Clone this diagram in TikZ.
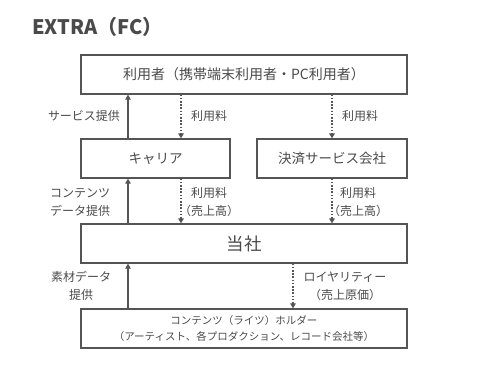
\documentclass[tikz,border=0pt]{standalone}
\usepackage{fontspec}
\setmainfont{Noto Sans CJK JP}
\usepackage{tikz}
\usetikzlibrary{arrows.meta}
\usetikzlibrary{positioning}

\definecolor{linegray}{HTML}{555555}
\definecolor{textgray}{HTML}{4A4A4A}

\begin{document}
\begin{tikzpicture}[x=1pt, y=-1pt,
    every node/.style={text=textgray, inner sep=0pt},
    box/.style={draw=linegray, line width=1.3pt, minimum height=39pt},
    label/.style={font=\fontsize{12}{18}\selectfont, align=center},
    upflow/.style={draw=linegray, line width=1.2pt, -{Triangle[width=5.5pt,length=5pt]}},
    fee/.style={draw=linegray, line width=1.3pt, dash pattern=on 1.6pt off 1.6pt, -{Triangle[width=5.5pt,length=5pt]}}]

      \useasboundingbox (0,0) rectangle (488,366);

      % Title
      \node[anchor=west, text=textgray, font=\fontsize{20}{22}\selectfont\bfseries] (title) at (32,27) {EXTRA（FC）};

      % Boxes
      \node[box, minimum width=326pt, font=\fontsize{14}{16}\selectfont] (user) at (244,74.5) {利用者（携帯端末利用者・PC利用者）};
      \node[box, minimum width=149pt, font=\fontsize{13.5}{16}\selectfont] (carrier) at (155.5,158.5) {キャリア};
      \node[box, minimum width=150pt, font=\fontsize{13.5}{16}\selectfont] (payment) at (332,158.5) {決済サービス会社};
      \node[box, minimum width=326pt, font=\fontsize{17.5}{20}\selectfont] (company) at (244,243.5) {当社};
      \node[box, minimum width=326pt, font=\fontsize{10.5}{16}\selectfont, align=center] (holder) at (244,328.5)
        {コンテンツ（ライツ）ホルダー\\（アーティスト、各プロダクション、レコード会社等）};

      % Columns of the arrows
      \coordinate (colA) at (128,0);
      \coordinate (colB) at (181,0);
      \coordinate (colC) at (332,0);
      \coordinate (colD) at (293,0);

      % Services and data going up
      \draw[upflow] (carrier.north -| colA) -- (user.south -| colA);
      \draw[upflow] (company.north -| colA) -- (carrier.south -| colA);
      \draw[upflow] (holder.north -| colA) -- (company.south -| colA);

      % Money going down
      \draw[fee] (user.south -| colB) -- (carrier.north -| colB);
      \draw[fee] (user.south -| colC) -- (payment.north -| colC);
      \draw[fee] (carrier.south -| colB) -- (company.north -| colB);
      \draw[fee] (payment.south -| colC) -- (company.north -| colC);
      \draw[fee] (company.south -| colD) -- (holder.north -| colD);

      % Labels
      \node[label] (service) at (84,116) {サービス提供};
      \node[label] (feeA) at (209,116) {利用料};
      \node[label] (feeB) at (360,116) {利用料};
      \node[label] (content) at (80,202) {コンテンツ\\データ提供};
      \node[label] (salesA) at (209,202) {利用料\\（売上高）};
      \node[label] (salesB) at (358,202) {利用料\\（売上高）};
      \node[label] (material) at (81,286) {素材データ\\提供};
      \node[label] (royalty) at (345,286) {ロイヤリティー\\（売上原価）};

    \end{tikzpicture}
\end{document}
